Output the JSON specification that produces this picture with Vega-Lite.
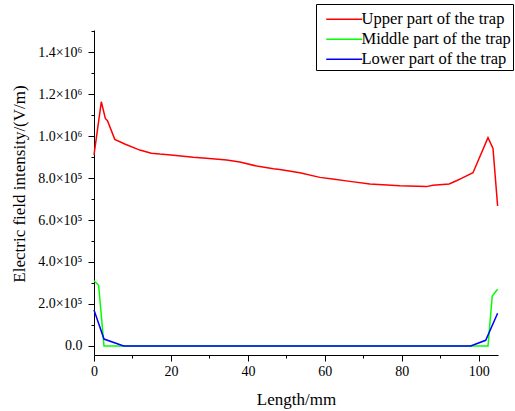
{
  "$schema": "https://vega.github.io/schema/vega-lite/v6.json",
  "width": 404,
  "height": 325,
  "autosize": {"type": "none"},
  "padding": {"left": 94, "top": 30, "right": 17, "bottom": 56},
  "background": "white",
  "config": {
    "view": {"stroke": null},
    "font": "Liberation Serif",
    "axis": {
      "grid": false,
      "domainColor": "black",
      "tickColor": "black",
      "labelColor": "black",
      "titleColor": "black",
      "labelFont": "Liberation Serif",
      "titleFont": "Liberation Serif",
      "labelFontSize": 14,
      "titleFontSize": 17,
      "titleFontWeight": "normal",
      "domainWidth": 1,
      "tickWidth": 1
    }
  },
  "data": {
    "values": [
      {"series": "Upper part of the trap", "length": 0, "value": 910000},
      {"series": "Upper part of the trap", "length": 1.9, "value": 1163000},
      {"series": "Upper part of the trap", "length": 2.95, "value": 1084000},
      {"series": "Upper part of the trap", "length": 3.5, "value": 1073000},
      {"series": "Upper part of the trap", "length": 5.4, "value": 984000},
      {"series": "Upper part of the trap", "length": 8, "value": 962000},
      {"series": "Upper part of the trap", "length": 11.9, "value": 933000},
      {"series": "Upper part of the trap", "length": 14.9, "value": 918000},
      {"series": "Upper part of the trap", "length": 17.1, "value": 914000},
      {"series": "Upper part of the trap", "length": 20, "value": 910000},
      {"series": "Upper part of the trap", "length": 25.8, "value": 899000},
      {"series": "Upper part of the trap", "length": 30, "value": 893000},
      {"series": "Upper part of the trap", "length": 34.5, "value": 886000},
      {"series": "Upper part of the trap", "length": 37.9, "value": 876000},
      {"series": "Upper part of the trap", "length": 42.3, "value": 857000},
      {"series": "Upper part of the trap", "length": 46.6, "value": 844000},
      {"series": "Upper part of the trap", "length": 48.3, "value": 841000},
      {"series": "Upper part of the trap", "length": 53.5, "value": 825000},
      {"series": "Upper part of the trap", "length": 58.7, "value": 803000},
      {"series": "Upper part of the trap", "length": 62, "value": 795000},
      {"series": "Upper part of the trap", "length": 66.5, "value": 784000},
      {"series": "Upper part of the trap", "length": 71.7, "value": 771000},
      {"series": "Upper part of the trap", "length": 79.5, "value": 763000},
      {"series": "Upper part of the trap", "length": 86.4, "value": 759000},
      {"series": "Upper part of the trap", "length": 88.1, "value": 765000},
      {"series": "Upper part of the trap", "length": 92.3, "value": 772000},
      {"series": "Upper part of the trap", "length": 94.2, "value": 787000},
      {"series": "Upper part of the trap", "length": 95.5, "value": 798000},
      {"series": "Upper part of the trap", "length": 98.5, "value": 825000},
      {"series": "Upper part of the trap", "length": 102.4, "value": 992000},
      {"series": "Upper part of the trap", "length": 103.7, "value": 941000},
      {"series": "Upper part of the trap", "length": 104.9, "value": 667000},
      {"series": "Middle part of the trap", "length": 0, "value": 311000},
      {"series": "Middle part of the trap", "length": 1.2, "value": 289000},
      {"series": "Middle part of the trap", "length": 2.6, "value": 0},
      {"series": "Middle part of the trap", "length": 50, "value": 0},
      {"series": "Middle part of the trap", "length": 102.4, "value": 0},
      {"series": "Middle part of the trap", "length": 103.5, "value": 238000},
      {"series": "Middle part of the trap", "length": 104.9, "value": 270000},
      {"series": "Lower part of the trap", "length": 0, "value": 171000},
      {"series": "Lower part of the trap", "length": 2.6, "value": 33000},
      {"series": "Lower part of the trap", "length": 7.7, "value": 0},
      {"series": "Lower part of the trap", "length": 50, "value": 0},
      {"series": "Lower part of the trap", "length": 97.9, "value": 0},
      {"series": "Lower part of the trap", "length": 101.8, "value": 27000},
      {"series": "Lower part of the trap", "length": 104.9, "value": 156000}
    ]
  },
  "layer": [
    {
      "mark": {"type": "line", "strokeWidth": 1.5},
      "encoding": {
        "x": {
          "field": "length",
          "type": "quantitative",
          "scale": {"domain": [0, 105], "nice": false, "zero": false},
          "axis": {
            "title": "Length/mm",
            "values": [0, 20, 40, 60, 80, 100],
            "tickSize": 6,
            "labelPadding": 3,
            "titlePadding": 13,
            "labelFlush": false
          }
        },
        "y": {
          "field": "value",
          "type": "quantitative",
          "scale": {"domain": [-43000, 1505000], "nice": false, "zero": false},
          "axis": {
            "title": "Electric field intensity/(V/m)",
            "values": [0, 200000, 400000, 600000, 800000, 1000000, 1200000, 1400000],
            "labelExpr": "datum.value == 0 ? '0.0' : (datum.value >= 1000000 ? format(datum.value/1000000, '.1f') + '×10⁶' : format(datum.value/100000, '.1f') + '×10⁵')",
            "tickSize": 6,
            "labelPadding": 6,
            "titlePadding": 9,
            "titleY": 153.5
          }
        },
        "color": {
          "field": "series",
          "type": "nominal",
          "sort": ["Upper part of the trap", "Middle part of the trap", "Lower part of the trap"],
          "scale": {
            "domain": ["Upper part of the trap", "Middle part of the trap", "Lower part of the trap"],
            "range": ["#ff0000", "#00ff00", "#0000ff"]
          },
          "legend": {
            "title": " ",
            "titleFontSize": 5,
            "titlePadding": 0,
            "orient": "none",
            "legendX": 222,
            "legendY": -26,
            "symbolType": "M0,0H6",
            "symbolSize": 144,
            "symbolStrokeWidth": 1.5,
            "labelFontSize": 16.5,
            "labelFont": "Liberation Serif",
            "labelColor": "black",
            "labelOffset": 27,
            "rowPadding": 3,
            "padding": 2,
            "strokeColor": "black",
            "fillColor": "white"
          }
        }
      }
    },
    {
      "mark": {"type": "line", "strokeOpacity": 0},
      "encoding": {
        "x": {
          "field": "length",
          "type": "quantitative",
          "axis": {
            "title": null,
            "values": [10, 30, 50, 70, 90],
            "tickSize": 3,
            "labels": false,
            "domain": false,
            "orient": "bottom"
          }
        },
        "y": {
          "field": "value",
          "type": "quantitative",
          "axis": {
            "title": null,
            "values": [100000, 300000, 500000, 700000, 900000, 1100000, 1300000, 1500000],
            "tickSize": 3,
            "labels": false,
            "domain": false,
            "orient": "left"
          }
        },
        "detail": {"field": "series"}
      }
    }
  ],
  "resolve": {"axis": {"x": "independent", "y": "independent"}}
}
